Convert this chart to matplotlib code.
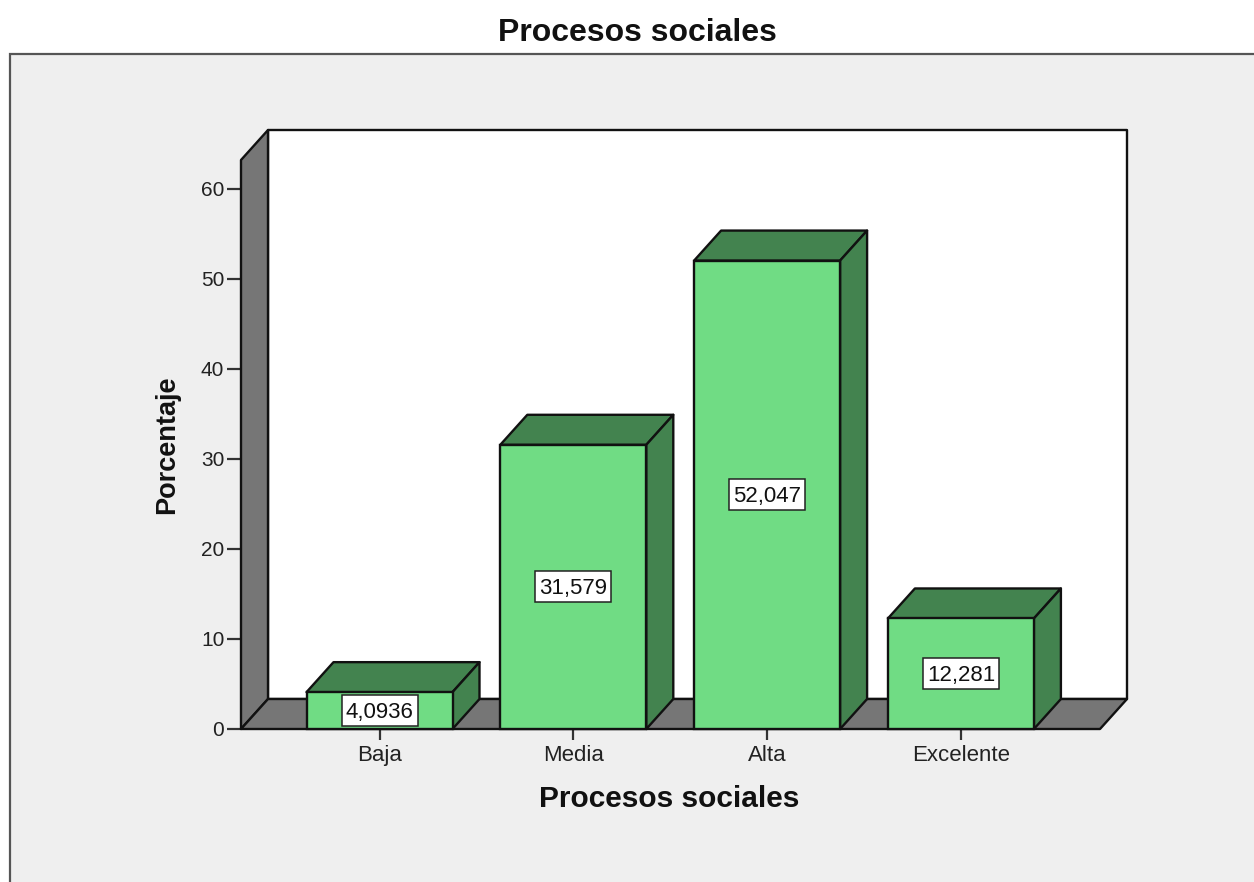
import matplotlib
matplotlib.use('Agg')
import matplotlib.pyplot as plt
from matplotlib.patches import Polygon, Rectangle

categories = ['Baja', 'Media', 'Alta', 'Excelente']
values = [4.0936, 31.579, 52.047, 12.281]
value_labels = ['4,0936', '31,579', '52,047', '12,281']
y_ticks = [0, 10, 20, 30, 40, 50, 60]

W, H = 1254, 882
plt.rcParams['font.family'] = ['Liberation Sans', 'DejaVu Sans']

FRONT = '#70dc84'
DARK = '#43834f'
GREY = '#767676'
EDGE = '#111111'

fig = plt.figure(figsize=(W / 100, H / 100), dpi=100, facecolor='white')

# grey panel behind the chart, open on the right and at the bottom
panel = fig.add_axes([0, 0, 1, 1], zorder=0)
panel.set_xlim(0, W)
panel.set_ylim(H, 0)
panel.axis('off')
panel.add_patch(Rectangle((0, 0), W, H, fc='white', ec='none'))
panel.add_patch(Rectangle((10, 54), W, H, fc='#efefef', ec='#555555', lw=1.6))

# front plane of the chart: x 241-1100 px, y 160-729 px
left, right, top, bottom = 241, 1100, 160, 729
ax = fig.add_axes([left / W, 1 - bottom / H, (right - left) / W, (bottom - top) / H], zorder=1)
step = 193.8
ax.set_xlim((left - 379.5) / step, (right - 379.5) / step)
ax.set_ylim(0, (bottom - top) / 9.0)
ax.patch.set_alpha(0)
for s in ax.spines.values():
    s.set_visible(False)

x0, x1 = ax.get_xlim()
y1 = ax.get_ylim()[1]
dx = 27 / step
dy = 30 / 9.0
bw = 146 / step
box_w = 76 / step
box_h = 31 / 9.0


def poly(pts, fc, z):
    ax.add_patch(Polygon(pts, closed=True, fc=fc, ec=EDGE, lw=1.7, zorder=z,
                         clip_on=False, joinstyle='round'))


# walls
poly([(x0 + dx, dy), (x1 + dx, dy), (x1 + dx, y1 + dy), (x0 + dx, y1 + dy)], 'white', 1)
poly([(x0, 0), (x0 + dx, dy), (x0 + dx, y1 + dy), (x0, y1)], GREY, 2)
poly([(x0, 0), (x1, 0), (x1 + dx, dy), (x0 + dx, dy)], GREY, 2)

# bars
for i, v in enumerate(values):
    l, r = i - bw / 2, i + bw / 2
    ax.bar(i, v, width=bw, color=FRONT, edgecolor=EDGE, linewidth=1.7, zorder=5, clip_on=False)
    poly([(l, v), (r, v), (r + dx, v + dy), (l + dx, v + dy)], DARK, 4)
    poly([(r, 0), (r + dx, dy), (r + dx, v + dy), (r, v)], DARK, 4)
    ax.add_patch(Rectangle((i - box_w / 2, v / 2 - box_h / 2), box_w, box_h, fc='white',
                           ec='#222222', lw=1.1, zorder=6, clip_on=False))
    ax.text(i, v / 2 - 0.2, value_labels[i], ha='center', va='center', fontsize=16,
            color='#111111', zorder=7)

ax.set_xticks(range(len(categories)))
ax.set_xticklabels(categories, fontsize=16, color='#222222')
ax.set_yticks(y_ticks)
ax.set_yticklabels([str(t) for t in y_ticks], fontsize=15, color='#222222')
ax.tick_params(axis='x', length=8, width=1.6, color='#333333', pad=3.5, direction='out')
ax.tick_params(axis='y', length=10, width=1.6, color='#333333', pad=2, direction='out')

ax.set_xlabel('Procesos sociales', fontsize=21.5, fontweight='bold', color='#111111')
ax.xaxis.set_label_coords((669 - left) / (right - left), -(799 - bottom) / (bottom - top), transform=ax.transAxes)
ax.xaxis.label.set_va('center')
ax.set_ylabel('Porcentaje', fontsize=19.5, fontweight='bold', color='#111111')
ax.yaxis.set_label_coords((167 - left) / (right - left), (bottom - 445) / (bottom - top), transform=ax.transAxes)
ax.yaxis.label.set_va('center')

fig.text(637 / W, 1 - 33 / H, 'Procesos sociales', ha='center', va='center',
         fontsize=23, fontweight='bold', color='#111111')

fig.savefig('out.png', dpi=100)
